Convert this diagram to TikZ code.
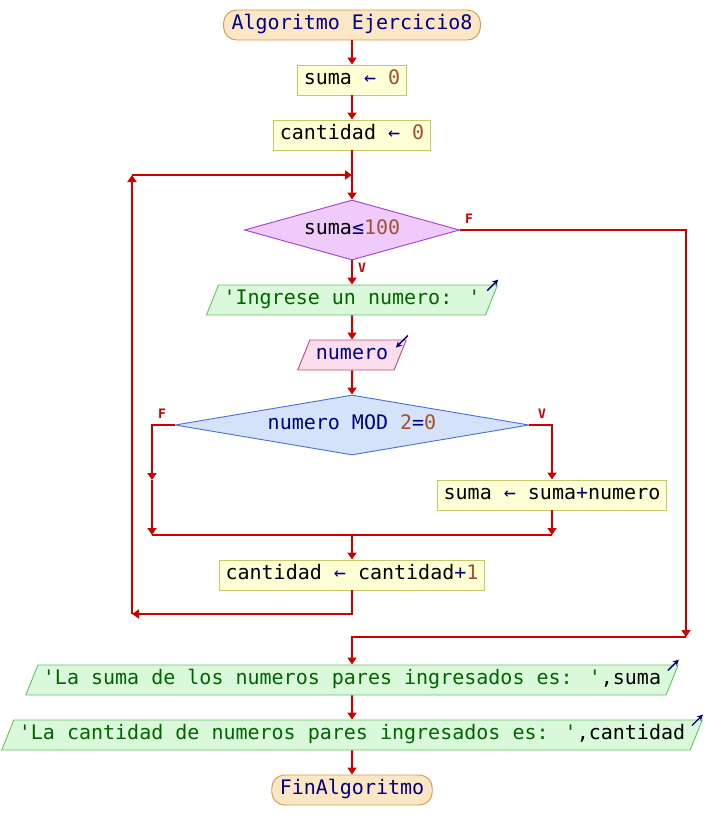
\documentclass[tikz,border=0pt]{standalone}
\usepackage{fontspec}
\setmainfont{DejaVu Sans Mono}
\usepackage{xcolor}
\usetikzlibrary{arrows.meta,shapes.geometric}
\definecolor{flowred}{HTML}{CC0000}
\definecolor{kwblue}{HTML}{000080}
\definecolor{numbrown}{HTML}{A0522D}
\definecolor{strgreen}{HTML}{006400}
\definecolor{termfill}{HTML}{FBE7C6}
\definecolor{termline}{HTML}{D49A4C}
\definecolor{procfill}{HTML}{FFFFD6}
\definecolor{procline}{HTML}{C8C868}
\definecolor{cond1fill}{HTML}{F0CAFA}
\definecolor{cond1line}{HTML}{A040D0}
\definecolor{cond2fill}{HTML}{D4E3FA}
\definecolor{cond2line}{HTML}{4A6FD0}
\definecolor{outfill}{HTML}{DAF8DA}
\definecolor{outline}{HTML}{66C266}
\definecolor{infill}{HTML}{FCDDEC}
\definecolor{inline}{HTML}{C04A82}
\newcommand{\kwd}[1]{\textcolor{kwblue}{#1}}
\newcommand{\numv}[1]{\textcolor{numbrown}{#1}}
\newcommand{\strv}[1]{\textcolor{strgreen}{#1}}
\newcommand{\sq}{\textquotesingle}

\begin{document}
\begin{tikzpicture}[
          x=1pt, y=-1pt,
          font=\fontsize{20}{24}\selectfont,
          base/.style={draw, line width=0.9pt, text height=14pt, text depth=5pt, inner ysep=5.5pt, inner xsep=6pt},
          term/.style={base, rounded corners=13pt, fill=termfill, draw=termline, inner xsep=8pt},
          proc/.style={base, fill=procfill, draw=procline},
          cond/.style={base, diamond, inner sep=0pt, minimum height=60pt},
          outp/.style={base, trapezium, trapezium left angle=68, trapezium right angle=112, inner xsep=5pt, fill=outfill, draw=outline},
          inp/.style={outp, inner xsep=6pt, fill=infill, draw=inline},
          flow/.style={draw=flowred, line width=2pt, -{Triangle[length=7pt,width=9pt]}},
          link/.style={draw=flowred, line width=2pt},
          tf/.style={font=\fontsize{13}{15}\selectfont\bfseries, text=flowred},
          icon/.style={draw=kwblue, line width=1.4pt, -{Stealth[length=6pt,width=6pt]}}
      ]
        \useasboundingbox (0,0) rectangle (704,840);

        \node[term] (start) at (352,25) {\kwd{Algoritmo Ejercicio8}};
        \node[proc] (s0) at (352,80) {suma \kwd{←} \numv{0}};
        \node[proc] (c0) at (352,135) {cantidad \kwd{←} \numv{0}};
        \node[cond, fill=cond1fill, draw=cond1line, minimum width=215pt, shape aspect=3.6] (w) at (352,230) {suma\kwd{≤}\numv{100}};
        \node[outp] (o0) at (352,300) {\strv{\sq Ingrese un numero: \sq}};
        \node[inp] (in) at (352,355) {\kwd{numero}};
        \node[cond, fill=cond2fill, draw=cond2line, minimum width=354pt, shape aspect=5.9] (if) at (352,425) {\kwd{numero MOD} \numv{2}\kwd{=}\numv{0}};
        \node[proc] (sn) at (552,495) {suma \kwd{←} suma\kwd{+}numero};
        \node[proc] (c1) at (352,575) {cantidad \kwd{←} cantidad\kwd{+}\numv{1}};
        \node[outp] (o1) at (352,680) {\strv{\sq La suma de los numeros pares ingresados es: \sq},suma};
        \node[outp] (o2) at (352,735) {\strv{\sq La cantidad de numeros pares ingresados es: \sq},cantidad};
        \node[term] (fin) at (352,790) {\kwd{FinAlgoritmo}};

        \coordinate (back1) at (132,614);
        \coordinate (back2) at (132,175);
        \coordinate (join) at (352,175);
        \coordinate (exit) at (686,637);
        \coordinate (lf) at (152,480);
        \coordinate (jl) at (152,535);
        \coordinate (jr) at (552,535);
        \coordinate (jm) at (352,535);

        \draw[flow] (start) -- (s0);
        \draw[flow] (s0) -- (c0);
        \draw[flow] (c0) -- (w);
        \draw[flow] (w) -- (o0);
        \draw[flow] (o0) -- (in);
        \draw[flow] (in) -- (if);
        \draw[flow] (if.west) -| (lf);
        \draw[flow] (lf) -- (jl);
        \draw[flow] (if.east) -| (sn.north);
        \draw[flow] (sn) -- (jr);
        \draw[link] (jl) -- (jr);
        \draw[flow] (jm) -- (c1);
        \draw[flow] (c1.south) |- (back1);
        \draw[flow] (back1) -- (back2);
        \draw[flow] (back2) -- (join);
        \draw[flow] (w.east) -| (exit);
        \draw[flow] (exit) -| (o1.north);
        \draw[flow] (o1) -- (o2);
        \draw[flow] (o2) -- (fin);

        \node[tf] (wf) at (469,219) {F};
        \node[tf] (wv) at (362,268) {V};
        \node[tf] (iff) at (162,414) {F};
        \node[tf] (ifv) at (542,414) {V};

        \foreach \n in {o0,o1,o2} {
          \draw[icon] ([xshift=-11pt,yshift=-6pt]\n.top right corner) -- ++(11pt,11pt);
        }
        \draw[icon] ([xshift=1pt,yshift=4pt]in.top right corner) -- ++(-12pt,-12pt);
      \end{tikzpicture}
\end{document}
